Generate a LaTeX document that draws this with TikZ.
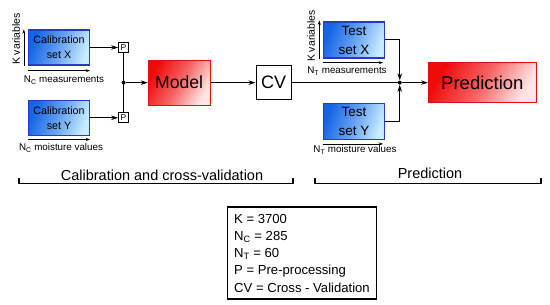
\documentclass[tikz,border=0pt]{standalone}
\usepackage{fontspec}
\setmainfont{Liberation Sans}
\usepackage{xcolor}
\usetikzlibrary{arrows.meta,positioning,calc}
\definecolor{setblue}{HTML}{1464E6}
\definecolor{setlight}{HTML}{C8ECFF}
\definecolor{setedge}{HTML}{2838C8}
\definecolor{modred}{HTML}{F00A0A}
\definecolor{modlight}{HTML}{FFE6E6}
\definecolor{modedge}{HTML}{E01010}
\newcommand{\fsz}[2]{\fontsize{#1}{#2}\selectfont}
\tikzset{
  setb/.style={draw=setedge, line width=1.3pt, minimum width=61pt, minimum height=35pt,
               inner sep=0pt, align=center, top color=setblue, bottom color=setlight,
               middle color=setblue!55!setlight, shading angle=70},
  calb/.style={setb, font=\fsz{10.7}{15}},
  testb/.style={setb, minimum height=36pt, font=\fsz{13.5}{19}},
  modb/.style={draw=modedge, line width=0.8pt, inner sep=0pt, align=center,
               top color=modred, bottom color=modlight, middle color=modred!60!modlight,
               shading angle=60},
  pbox/.style={draw, line width=0.8pt, minimum size=10pt, inner sep=0pt,
               font=\fsz{8.5}{9}},
  cvb/.style={draw, line width=1.2pt, minimum width=35pt, minimum height=34pt,
              inner sep=0pt, font=\fsz{18}{20}},
  jdot/.style={circle, fill, inner sep=0pt, minimum size=4pt},
  ar/.style={-{Stealth[length=7pt,width=4.5pt]}, line width=0.9pt},
  dimar/.style={-{Stealth[length=4.5pt,width=3pt]}, line width=0.7pt},
  dimlbl/.style={inner sep=0pt, font=\fsz{9.8}{11}},
  kvar/.style={inner sep=0pt, rotate=90, font=\fsz{10.5}{12}},
  brk/.style={line width=1.3pt},
  phase/.style={inner sep=0pt, font=\fsz{14.5}{16}},
  legend/.style={draw, line width=1.5pt, minimum height=92pt, inner xsep=6.5pt,
                 align=left, font=\fsz{13.1}{17.25}},
}
\begin{document}
\begin{tikzpicture}[x=1pt, y=-1pt]
  \useasboundingbox (0,0) rectangle (550,305);

  % calibration side
  \node[calb] (calx) at (59,47.5) {Calibration\\set X};
  \node[calb, below=34pt of calx] (caly) {Calibration\\set Y};
  \node[pbox, right=28pt of calx] (px) {P};
  \node[pbox, right=28pt of caly] (py) {P};
  \node[jdot] (jc) at ($(px)!0.5!(py)$) {};
  \node[modb, minimum width=62pt, minimum height=45pt, font=\fsz{17.6}{20},
        right=22pt of jc] (model) {Model};
  \node[cvb, right=45pt of model] (cv) {CV};

  % prediction side
  \node[jdot] (jt) at ($(cv.east)+(108,0)$) {};
  \node[modb, minimum width=108pt, minimum height=40pt, font=\fsz{18.5}{20},
        right=26pt of jt] (pred) {Prediction};
  \node[testb] (testx) at (354,40) {Test\\set X};
  \node[testb, below=44pt of testx] (testy) {Test\\set Y};

  \draw[ar] (calx) -- (px);
  \draw[ar] (caly) -- (py);
  \draw[line width=0.9pt] (px) -- (py);
  \draw[ar] (jc) -- (model);
  \draw[ar] (model) -- (cv);
  \draw[line width=0.9pt] (cv) -- (jt);
  \draw[ar] (jt) -- (pred);
  \draw[ar] ($(testx.east)+(0,-1)$) -| (jt);
  \draw[ar] (testy.east) -| (jt);

  % dimensions of the data sets
  \draw[dimar] ($(calx.south west)+(-4,0)$) -- ($(calx.north west)+(-4,0)$);
  \draw[dimar] ($(calx.south west)+(0,5)$) -- ($(calx.south east)+(0,5)$);
  \draw[dimar] ($(caly.south west)+(0,3.5)$) -- ($(caly.south east)+(0,3.5)$);
  \draw[dimar] ($(testx.south west)+(-3.5,0)$) -- ($(testx.north west)+(-3.5,-1)$);
  \draw[dimar] ($(testx.south west)+(0,4)$) -- ($(testx.south east)+(-2,4)$);
  \draw[dimar] ($(testy.south west)+(0,4)$) -- ($(testy.south east)+(-2,4)$);

  \node[kvar] at (16,39) {K variables};
  \node[kvar] at (311,36) {K variables};
  \node[dimlbl] at (64,80) {N\textsubscript{C} measurements};
  \node[dimlbl] at (61,148) {N\textsubscript{C} moisture values};
  \node[dimlbl] at (347,71) {N\textsubscript{T} measurements};
  \node[dimlbl] at (355,150) {N\textsubscript{T} moisture values};

  % phases
  \draw[brk] (19,178.5) -- (19,183.5) -- (293,183.5) -- (293,178.5);
  \draw[brk] (315,178.5) -- (315,183.5) -- (541,183.5) -- (541,178.5);
  \node[phase] at (162,175) {Calibration and cross-validation};
  \node[phase] at (430,173) {Prediction};

  \node[legend] (leg) at (302,253)
       {K = 3700\\N\textsubscript{C} = 285\\N\textsubscript{T} = 60\\
        P = Pre-processing\\CV = Cross - Validation};
\end{tikzpicture}
\end{document}
